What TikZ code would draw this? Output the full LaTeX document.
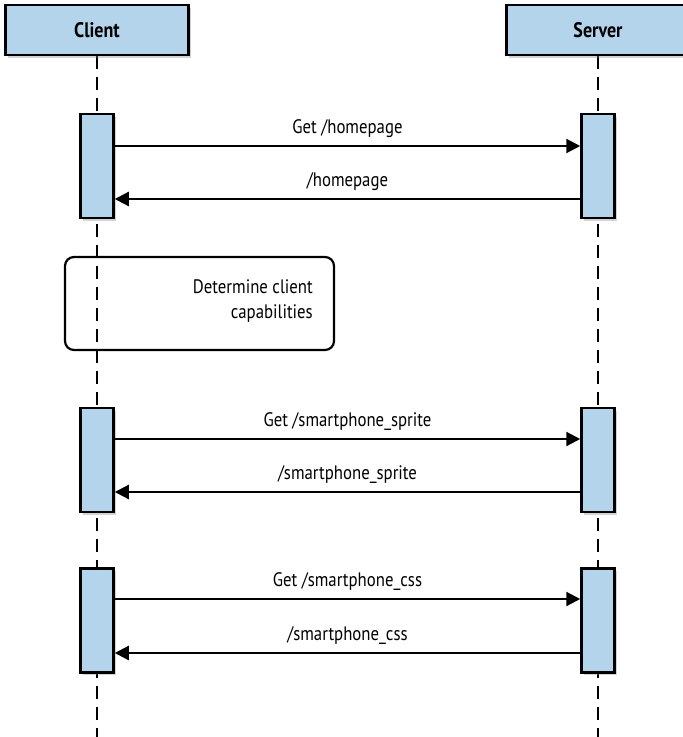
\documentclass[tikz,border=0pt]{standalone}
\usepackage{fontspec}
\setmainfont{PT Sans}[FakeStretch=0.86]
\usetikzlibrary{arrows.meta,shadows}
\definecolor{actblue}{RGB}{179,212,234}
\tikzset{
  header/.style={draw=black, line width=2.6pt, fill=actblue, minimum width=183pt,
    minimum height=50pt, font=\bfseries\fontsize{21}{24}\selectfont,
    drop shadow={shadow xshift=2.5pt, shadow yshift=-2.5pt, opacity=0.35}},
  actbar/.style={draw=black, line width=2.5pt, fill=actblue, minimum width=33pt,
    minimum height=104pt, inner sep=0pt,
    drop shadow={shadow xshift=2.5pt, shadow yshift=-2.5pt, opacity=0.35}},
  lifeline/.style={line width=2.6pt, dash pattern=on 13pt off 8pt},
  msg/.style={line width=2.2pt, -{Triangle[length=14pt,width=14pt]}},
  msglabel/.style={font=\fontsize{19.5}{22}\selectfont, anchor=base, inner sep=0pt, yshift=13pt},
  notebox/.style={draw=black, line width=2.2pt, rounded corners=9pt, fill=none}
}
\begin{document}
\begin{tikzpicture}[x=1pt,y=-1pt]
\useasboundingbox (0,0) rectangle (683,737);
\begin{scope}
\clip (0,0) rectangle (683,737);
% lifelines
\coordinate (cTop) at (97,56);
\coordinate (cBot) at (97,737);
\coordinate (sTop) at (598,56);
\coordinate (sBot) at (598,737);
\draw[lifeline] (cTop) -- (cBot);
\draw[lifeline] (sTop) -- (sBot);
% headers
\node[header] (client) at (97,30) {Client};
\node[header] (server) at (598,30) {Server};
% note
\node[notebox, minimum width=269pt, minimum height=93pt] (note) at (199.5,303.5) {};
\node[font=\fontsize{19.5}{25}\selectfont, align=right, anchor=north east, inner sep=0pt] (notetext) at (313,279) {Determine client\\capabilities};
% activation bars
\node[actbar] (c1) at (97,166) {};
\node[actbar] (s1) at (598,166) {};
\node[actbar] (c2) at (97,460) {};
\node[actbar] (s2) at (598,460) {};
\node[actbar] (c3) at (97,620.5) {};
\node[actbar] (s3) at (598,620.5) {};
% messages
\draw[msg] (c1.east |- 0,146) -- (s1.west |- 0,146) node[msglabel, midway] {Get /homepage};
\draw[msg] (s1.west |- 0,199) -- (c1.east |- 0,199) node[msglabel, midway] {/homepage};
\draw[msg] (c2.east |- 0,439) -- (s2.west |- 0,439) node[msglabel, midway] {Get /smartphone\_sprite};
\draw[msg] (s2.west |- 0,492) -- (c2.east |- 0,492) node[msglabel, midway] {/smartphone\_sprite};
\draw[msg] (c3.east |- 0,599) -- (s3.west |- 0,599) node[msglabel, midway] {Get /smartphone\_css};
\draw[msg] (s3.west |- 0,653) -- (c3.east |- 0,653) node[msglabel, midway] {/smartphone\_css};
\end{scope}
\end{tikzpicture}
\end{document}
